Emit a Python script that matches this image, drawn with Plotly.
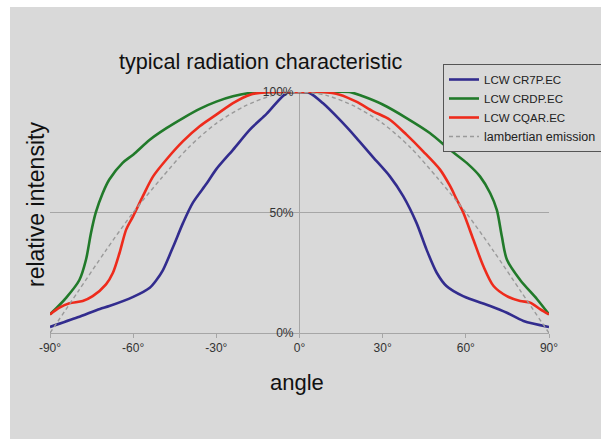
import plotly.graph_objects as go

# ---- data ----
cr7p_angle = [-90, -80, -72, -68.6, -60, -54, -51.6, -49.3, -45.5, -42, -38.5, -33.5, -30, -24, -17.8, -11.8, -4.6, 0,
              3.6, 8.4, 14.5, 20.5, 26.5, 32.6, 37.4, 42.2, 45.8, 49.5, 53, 59, 68.8, 74.8, 80.8, 90]
cr7p_value = [2.5, 6.5, 10, 11.2, 15, 18.8, 22, 26, 36, 45.7, 54, 62, 68, 76, 84.5, 91, 99.6, 100,
              99.6, 95.4, 88.5, 81, 73, 65, 56.8, 45.7, 34.7, 25, 19.5, 15.3, 11.2, 8.4, 5, 2.5]

crdp_angle = [-90, -84.2, -79.4, -77, -75.2, -73.5, -71, -68.6, -63.8, -60, -54, -48, -42, -36, -30, -24, -17.8, -10, 0,
              10, 18, 22.9, 30, 38.6, 47, 54.3, 60.3, 65.1, 68.8, 71.2, 73, 74.8, 79.6, 85.7, 90]
crdp_value = [7.7, 14.6, 22, 30.5, 41.6, 49.9, 58, 63.7, 70.6, 74, 80.2, 85, 89.2, 93, 96, 98.2, 99.6, 100, 100,
              100, 100, 98.2, 94.8, 89.2, 83, 76, 70.6, 65, 58, 51, 40, 30.5, 22, 14, 7.7]

cqar_angle = [-90, -86.6, -83, -78.2, -74.6, -69.8, -67.3, -64.9, -62.5, -60, -56.5, -52.8, -48, -42, -36, -30, -24, -17.8, -11.8, 0,
              8.4, 14.5, 20.5, 26.5, 32.6, 38.6, 44.6, 50.7, 54.3, 56.7, 59.1, 62.7, 66.3, 70, 74.8, 79.6, 83.2, 86.9, 90]
cqar_value = [7.7, 10.5, 12.3, 13.3, 15.3, 20.2, 25, 33.3, 43, 48.5, 56.8, 65, 72, 79.6, 85.8, 90.6, 95.4, 98.9, 99.9, 100,
              100, 98.9, 96, 92, 88.5, 82.3, 75.4, 67.8, 61, 55.4, 49.9, 38.8, 27.8, 19.5, 15.3, 13.3, 12.6, 9.8, 7.7]

lamb_angle = [-90, -80, -70, -60, -50, -40, -30, -20, -10, 0, 10, 20, 30, 40, 50, 60, 70, 80, 90]
lamb_value = [0, 17, 34, 50, 64, 77, 87, 94, 98.5, 100, 98.5, 94, 87, 77, 64, 50, 34, 17, 0]

x_ticks = [-90, -60, -30, 0, 30, 60, 90]
x_tick_labels = ["-90°", "-60°", "-30°", "0°", "30°", "60°", "90°"]
y_ticks = [0, 50, 100]
y_tick_labels = ["0%", "50%", "100%"]

series = [
    ("LCW CR7P.EC", cr7p_angle, cr7p_value, "#322c8e", "solid", 2.6),
    ("LCW CRDP.EC", crdp_angle, crdp_value, "#217a2a", "solid", 2.6),
    ("LCW CQAR.EC", cqar_angle, cqar_value, "#ee2b1c", "solid", 2.6),
    ('<span style="font-size:12.5px">lambertian emission</span>', lamb_angle, lamb_value, "#9a9a9a", "4px,3px", 1.4),
]

W, H = 601, 439
# target plot-area pixel box in the screenshot
PX0, PX1, PY_TOP, PY_BOT = 50, 549, 92, 333
L = PX0
T = PY_TOP
R = W - PX1
B = H - PY_BOT
pw, ph = PX1 - PX0, PY_BOT - PY_TOP
BG = "#d9d9d9"
FONT = "Liberation Sans, Arial, sans-serif"

fig = go.Figure()
for name, xs, ys, col, dash, w in series:
    fig.add_trace(go.Scatter(
        x=xs, y=ys, mode="lines", name=name, cliponaxis=False,
        line=dict(color=col, width=w, dash=dash, shape="spline", smoothing=0.8),
    ))

def px_x(p):  # screenshot px -> paper x
    return (p - PX0) / pw

def px_y(p):  # screenshot px -> paper y
    return (PY_BOT - p) / ph

fig.add_shape(type="rect", xref="paper", yref="paper",
              x0=px_x(10), x1=px_x(W + 100), y0=px_y(H + 100), y1=px_y(7),
              fillcolor=BG, line_width=0, layer="below")

fig.update_layout(
    width=W, height=H,
    margin=dict(l=L, r=R, t=T, b=B, autoexpand=False),
    paper_bgcolor="white", plot_bgcolor=BG,
    font=dict(family=FONT, color="#222"),
    showlegend=True,
    legend=dict(
        x=px_x(443), y=px_y(64), xanchor="left", yanchor="top",
        bgcolor=BG, bordercolor="#555", borderwidth=1,
        font=dict(size=11.5, color="#222", family=FONT),
        tracegroupgap=0,
    ),
    xaxis=dict(
        range=[-90, 90], tickvals=x_ticks, ticktext=x_tick_labels,
        showgrid=False, zeroline=True, zerolinecolor="#a6a6a6", zerolinewidth=1,
        showline=True, linecolor="#a6a6a6", linewidth=1,
        ticks="outside", ticklen=4, tickcolor="#a6a6a6",
        tickfont=dict(size=12, color="#333"),
        fixedrange=True,
    ),
    yaxis=dict(
        range=[0, 100], tickvals=y_ticks, ticktext=y_tick_labels,
        anchor="free", position=0.5, side="left",
        showgrid=True, gridcolor="#a6a6a6", gridwidth=1,
        zeroline=False, showline=False, ticks="",
        ticklabelstandoff=6,
        tickfont=dict(size=12, color="#333"),
        fixedrange=True,
    ),
    annotations=[
        dict(text="typical radiation characteristic", xref="paper", yref="paper",
             x=px_x(260), y=px_y(61), xanchor="center", yanchor="middle",
             showarrow=False, font=dict(size=21.6, color="#111")),
        dict(text="relative intensity", xref="paper", yref="paper",
             x=px_x(36), y=px_y(205), xanchor="center", yanchor="middle",
             textangle=-90, showarrow=False, font=dict(size=23, color="#111")),
        dict(text="angle", xref="paper", yref="paper",
             x=px_x(297), y=px_y(382), xanchor="center", yanchor="middle",
             showarrow=False, font=dict(size=22, color="#111")),
    ],
)

fig.write_html("out.html", config={"displayModeBar": False},
               post_script="document.body.style.margin='0';")
